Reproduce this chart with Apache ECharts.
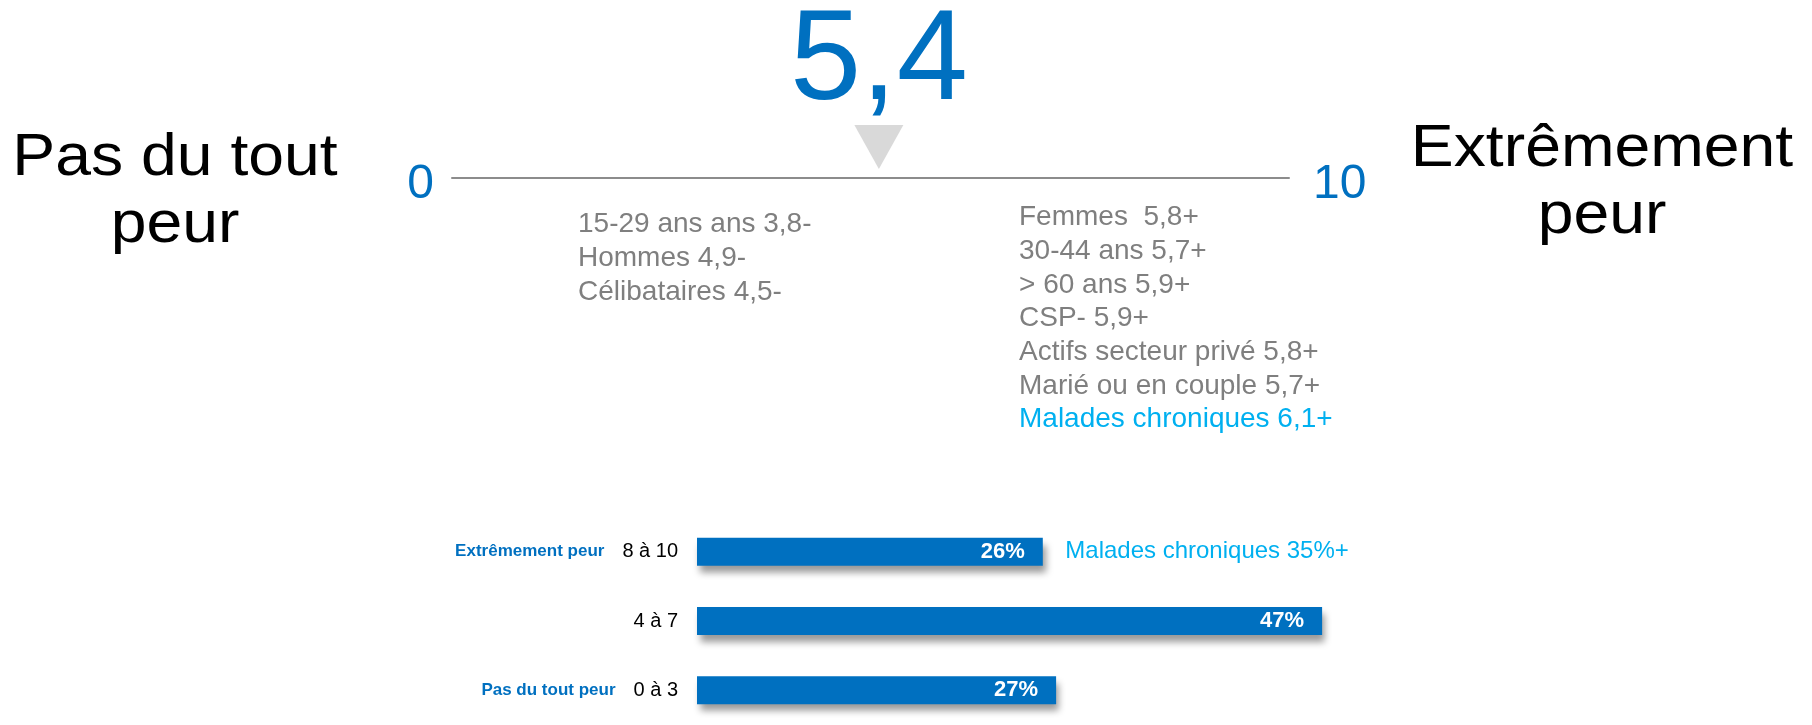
<!DOCTYPE html>
<html>
<head>
<meta charset="utf-8">
<script src="https://cdn.jsdelivr.net/npm/echarts@6/dist/echarts.min.js"></script>
<style>
html, body { margin: 0; padding: 0; background: #fff; }
#chart { width: 1812px; height: 725px; }
</style>
</head>
<body>
<div id="chart"></div>
<script>
// échelle 0 - 10
const scaleMin = 0
const scaleMax = 10
const meanScoreText = '5,4'
const markerPos = 5.1 // position du triangle sur la ligne

const lowEnd = 'Pas du tout\npeur'
const highEnd = 'Extrêmement\npeur'

const lowGroups = ['15-29 ans ans 3,8-', 'Hommes 4,9-', 'Célibataires 4,5-']
const highGroups = [
  'Femmes  5,8+',
  '30-44 ans 5,7+',
  '> 60 ans 5,9+',
  'CSP- 5,9+',
  'Actifs secteur privé 5,8+',
  'Marié ou en couple 5,7+',
  'Malades chroniques 6,1+',
]
const highlightGroup = 'Malades chroniques 6,1+'

// répartition
const bands = ['8 à 10', '4 à 7', '0 à 3']
const bandNames = ['Extrêmement peur', '', 'Pas du tout peur']
const shares = [26, 47, 27]
const bandNotes = ['Malades chroniques 35%+', '', '']

const BLUE = '#0070c0'
const SKY = '#00b0f0'
const GREY = '#7f7f7f'
const FONT = "'Liberation Sans', Arial, sans-serif"

function groupTexts(list, x, y0) {
  return list.map((t, i) => ({
    type: 'text',
    x: x,
    y: y0 + i * 33.7,
    style: {
      text: t,
      font: `28px ${FONT}`,
      fill: t === highlightGroup ? SKY : GREY,
      align: 'left', textAlign: 'left',
      verticalAlign: 'middle', textVerticalAlign: 'middle',
    },
  }))
}

function endText(text, x, y) {
  return {
    type: 'text',
    x: x,
    y: y,
    scaleX: 1.09,
    style: {
      text: text,
      font: `59px ${FONT}`,
      lineHeight: 67,
      fill: '#000',
      align: 'center', textAlign: 'center',
      verticalAlign: 'middle', textVerticalAlign: 'middle',
    },
  }
}

const chart = echarts.init(document.getElementById('chart'))

// les chiffres 0 et 10 sont un peu plus bas que la ligne
const scaleName = {
  rich: { n: { color: BLUE, fontSize: 48, fontFamily: FONT, padding: [14, 0, 0, 0] } },
}

chart.setOption({
  animation: false,
  backgroundColor: '#fff',
  textStyle: { fontFamily: FONT },
  grid: [
    { left: 697, top: 517, width: 798, height: 224 }, // barres
    { left: 452, top: 100, width: 837, height: 78 },  // ligne 0-10
  ],
  xAxis: [
    { gridIndex: 0, type: 'value', min: 0, max: 60, show: false },
    {
      gridIndex: 1, type: 'value', min: scaleMin, max: scaleMax, position: 'bottom',
      axisLine: { show: true, lineStyle: { color: '#8c8c8c', width: 2 } },
      axisTick: { show: false }, axisLabel: { show: false }, splitLine: { show: false },
      name: `{n|${scaleMin}}`, nameLocation: 'start', nameGap: 18,
      nameTextStyle: scaleName,
    },
    {
      gridIndex: 1, type: 'value', min: scaleMin, max: scaleMax, position: 'bottom', offset: 0,
      axisLine: { show: false }, axisTick: { show: false }, axisLabel: { show: false }, splitLine: { show: false },
      name: `{n|${scaleMax}}`, nameLocation: 'end', nameGap: 24,
      nameTextStyle: scaleName,
    },
  ],
  yAxis: [
    {
      gridIndex: 0, type: 'category', data: bands, inverse: true,
      axisLine: { show: false }, axisTick: { show: false }, splitLine: { show: false },
      axisLabel: {
        margin: 19,
        formatter: (v, i) => (bandNames[i] ? `{side|${bandNames[i]}}{cat|${v}}` : `{cat|${v}}`),
        rich: {
          side: { color: BLUE, fontWeight: 'bold', fontSize: 17, fontFamily: FONT, padding: [0, 18, 0, 0] },
          cat: { color: '#000', fontSize: 20, fontFamily: FONT },
        },
      },
    },
    { gridIndex: 1, type: 'value', min: 0, max: 1, show: false },
  ],
  series: [
    {
      type: 'bar',
      xAxisIndex: 0, yAxisIndex: 0,
      data: shares,
      barWidth: 28,
      itemStyle: {
        color: BLUE,
        shadowColor: 'rgba(0,0,0,0.4)',
        shadowBlur: 7,
        shadowOffsetX: 3,
        shadowOffsetY: 7,
      },
      label: {
        show: true,
        position: 'insideRight',
        distance: 18,
        formatter: '{c}%',
        color: '#fff',
        fontWeight: 'bold',
        fontSize: 22,
        fontFamily: FONT,
      },
    },
    {
      type: 'scatter',
      xAxisIndex: 0, yAxisIndex: 0,
      symbolSize: 1,
      itemStyle: { color: 'transparent', opacity: 1 },
      data: bands
        .map((b, i) => (bandNotes[i] ? { value: [shares[i], b], note: bandNotes[i] } : null))
        .filter(Boolean),
      label: {
        show: true,
        position: 'right',
        distance: 22,
        formatter: (p) => p.data.note,
        color: SKY,
        fontSize: 24,
        fontFamily: FONT,
      },
    },
    {
      type: 'scatter',
      xAxisIndex: 1, yAxisIndex: 1,
      symbol: 'path://M0,0 L2,0 L1,2 Z',
      symbolSize: [49, 44],
      symbolOffset: [0, -31],
      itemStyle: { color: '#d9d9d9', opacity: 1 },
      data: [[markerPos, 0]],
      label: {
        show: true,
        position: 'top',
        distance: -3,
        formatter: meanScoreText,
        color: BLUE,
        fontSize: 128,
        lineHeight: 128,
        fontFamily: FONT,
      },
    },
  ],
  graphic: [
    endText(lowEnd, 175, 192),
    endText(highEnd, 1602, 183),
    ...groupTexts(lowGroups, 578, 224.5),
    ...groupTexts(highGroups, 1019, 217.5),
  ],
})

window.addEventListener('resize', () => chart.resize())
</script>
</body>
</html>
